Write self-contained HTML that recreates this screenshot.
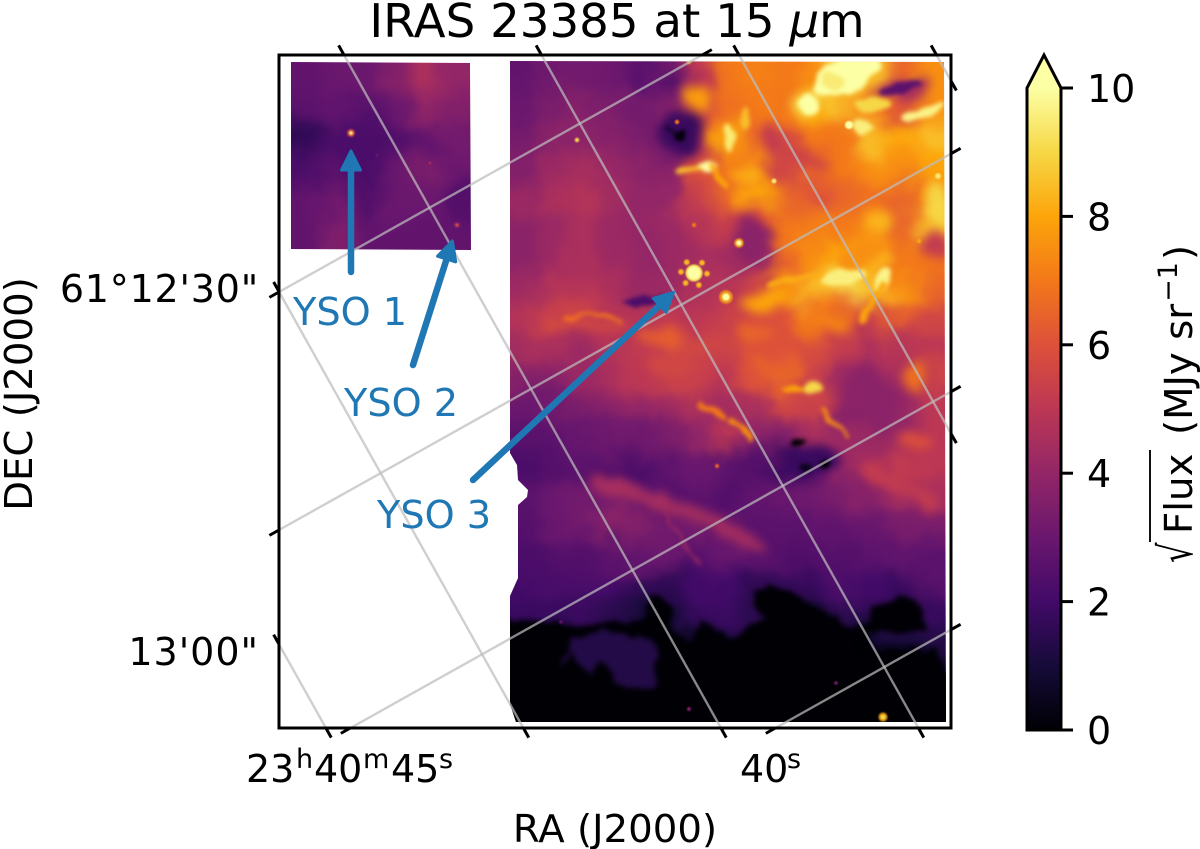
<!DOCTYPE html>
<html>
<head>
<meta charset="utf-8">
<title>IRAS 23385 at 15 micron</title>
<style>
html,body{margin:0;padding:0;background:#fff;}
svg{display:block;}
text{font-family:"DejaVu Sans","Liberation Sans",sans-serif;fill:#000;}
.blue{fill:#1f77b4;}
</style>
</head>
<body>
<svg id="fig" xmlns="http://www.w3.org/2000/svg" width="1200" height="849" viewBox="0 0 1200 849">
<defs>
<filter id="blurBig" filterUnits="userSpaceOnUse" x="200" y="0" width="900" height="849" color-interpolation-filters="sRGB">
<feGaussianBlur in="SourceGraphic" stdDeviation="8" result="b"/>
<feTurbulence type="fractalNoise" baseFrequency="0.022" numOctaves="3" seed="4" result="n"/>
<feDisplacementMap in="b" in2="n" scale="34" xChannelSelector="R" yChannelSelector="G"/>
</filter>
<filter id="blurSoft" filterUnits="userSpaceOnUse" x="200" y="0" width="900" height="849" color-interpolation-filters="sRGB">
<feTurbulence type="fractalNoise" baseFrequency="0.03" numOctaves="3" seed="9" result="n"/>
<feDisplacementMap in="SourceGraphic" in2="n" scale="24" xChannelSelector="R" yChannelSelector="G" result="d"/>
<feGaussianBlur in="d" stdDeviation="5"/>
</filter>
<filter id="blurVoid" filterUnits="userSpaceOnUse" x="200" y="0" width="900" height="849" color-interpolation-filters="sRGB">
<feTurbulence type="fractalNoise" baseFrequency="0.05" numOctaves="3" seed="2" result="n"/>
<feDisplacementMap in="SourceGraphic" in2="n" scale="16" xChannelSelector="R" yChannelSelector="G" result="d"/>
<feGaussianBlur in="d" stdDeviation="2.6"/>
</filter>
<filter id="blurFine" filterUnits="userSpaceOnUse" x="200" y="0" width="900" height="849" color-interpolation-filters="sRGB">
<feTurbulence type="fractalNoise" baseFrequency="0.05" numOctaves="2" seed="7" result="n"/>
<feDisplacementMap in="SourceGraphic" in2="n" scale="11" xChannelSelector="R" yChannelSelector="G" result="d"/>
<feGaussianBlur in="d" stdDeviation="2.2"/>
</filter>
<filter id="blurSmall" x="-10%" y="-10%" width="120%" height="120%" color-interpolation-filters="sRGB"><feGaussianBlur stdDeviation="0.8"/></filter>
<clipPath id="axesClip"><rect x="279" y="55" width="672" height="673"/></clipPath>
<clipPath id="rightClip"><path d="M510 61L944 62L945 390L946 722L516 722L510 704L510 596L518 578L518 505L527 497L528 490L518 480L517 465L510 453Z"/></clipPath>
<clipPath id="leftClip"><path d="M291 62L470 63L471 250L291 249Z"/></clipPath>
<linearGradient id="cbarGrad" x1="0" y1="1" x2="0" y2="0"></linearGradient>
</defs>
<g id="imgRight" clip-path="url(#rightClip)"><g id="gridRight" filter="url(#blurBig)"></g><g id="softLayer" filter="url(#blurSoft)"></g><g id="voidLayer" filter="url(#blurVoid)"></g><g id="fineLayer" filter="url(#blurFine)"></g><g id="stars" filter="url(#blurSmall)"></g></g>
<g id="imgLeft" clip-path="url(#leftClip)"><g id="gridLeft" filter="url(#blurBig)"></g><g id="starsLeft" filter="url(#blurSmall)"></g></g>
<g id="gridLines" clip-path="url(#axesClip)"></g>
<g id="ticks"></g>
<rect x="279" y="55" width="672" height="673" fill="none" stroke="#000" stroke-width="3"/>

<text x="617" y="37" font-size="46.7" text-anchor="middle">IRAS 23385 at 15 <tspan font-style="italic">μ</tspan>m</text>
<text x="615" y="842" font-size="38.7" text-anchor="middle">RA (J2000)</text>
<text transform="translate(32,394) rotate(-90)" font-size="38.7" text-anchor="middle">DEC (J2000)</text>
<text x="259" y="302" font-size="38" letter-spacing="0.8" text-anchor="end">61°12'30"</text>
<text x="259" y="665" font-size="38" letter-spacing="1" text-anchor="end">13'00"</text>
<text y="782" font-size="38"><tspan x="246">23</tspan><tspan x="296" y="768" font-size="27">h</tspan><tspan x="314" y="782">40</tspan><tspan x="363" y="768" font-size="27">m</tspan><tspan x="391" y="782">45</tspan><tspan x="439" y="768" font-size="27">s</tspan></text>
<text y="782" font-size="38"><tspan x="740">40</tspan><tspan x="787" y="768" font-size="27">s</tspan></text>

<g id="arrow1"></g>
<g id="arrow2"></g>
<g id="arrow3"></g>
<text class="blue" x="293" y="325" font-size="38.2">YSO 1</text>
<text class="blue" x="344" y="416" font-size="38.2">YSO 2</text>
<text class="blue" x="377" y="528" font-size="38.2">YSO 3</text>

<g id="colorbar">
<rect x="1027" y="88" width="34" height="642" fill="url(#cbarGrad)"/>
<path d="M1027 88L1044 55L1061 88Z" fill="#fcffa4"/>
<path d="M1027 730L1027 88L1044 55L1061 88L1061 730Z" fill="none" stroke="#000" stroke-width="3"/>
</g>
<g id="cbarTicks"></g>
<g>
<text transform="translate(1192,563) rotate(-90) scale(0.7,1)" font-size="46" >√</text>
<line x1="1150" y1="542" x2="1150" y2="450" stroke="#111" stroke-width="2"/>
<text transform="translate(1192,534) rotate(-90)" font-size="38.7">Flux</text>
<text transform="translate(1192,435) rotate(-90)" font-size="38.7">(MJy sr<tspan font-size="27" dy="-15" dx="2">−1</tspan><tspan dy="15" dx="2">)</tspan></text>
</g>
</svg>
<script>
// colormap
const cmapStops = ['#000004','#160b39','#420a68','#6a176e','#932667','#bc3754','#dd513a','#f37819','#fca50a','#f6d746','#fcffa4'];
// colorbar
const cbarTickValues = [0,2,4,6,8,10];
// main image flux values, rows top to bottom
const mainImageFlux = [
[2.8,3.2,3.2,3.0,2.6,3.0,5.0,7.0,7.2,7.0,7.5,9.0,8.5,6.5,7.5],
[3.0,3.4,3.6,3.4,3.2,3.6,5.6,6.8,7.0,7.0,8.0,8.5,7.0,6.0,7.5],
[3.3,3.8,3.8,3.6,3.4,2.8,5.0,8.0,6.5,5.8,7.0,7.0,8.5,8.0,8.5],
[3.6,4.2,4.4,4.0,3.8,3.8,6.0,7.0,7.5,5.5,6.5,7.0,7.5,7.5,8.0],
[4.2,4.6,4.8,4.4,4.0,4.0,5.5,6.5,8.0,6.5,6.0,6.5,6.8,6.5,7.5],
[3.8,4.2,4.6,4.2,4.0,4.2,4.8,5.2,6.0,7.0,7.2,7.0,7.5,6.5,8.5],
[3.8,4.2,4.6,4.2,4.0,4.2,4.5,4.3,4.3,6.5,7.5,8.0,8.3,7.0,7.0],
[4.2,4.8,4.8,4.6,4.2,4.2,4.6,4.8,5.5,7.5,8.5,9.0,8.5,7.5,6.5],
[4.8,5.4,5.4,5.0,4.8,5.0,5.0,5.4,5.8,6.0,7.0,6.5,5.5,6.3,5.5],
[4.4,4.6,4.2,4.8,5.2,5.6,5.6,5.5,6.0,6.0,5.8,5.2,4.6,4.8,5.0],
[3.6,3.8,4.2,4.6,5.0,5.4,5.4,5.0,6.0,6.5,5.5,4.2,4.0,4.5,5.5],
[3.0,3.2,3.4,3.8,4.0,4.4,4.6,4.4,4.5,5.5,5.5,3.8,3.6,4.0,5.0],
[2.6,2.6,3.0,3.2,3.2,3.4,4.0,5.0,4.0,3.6,4.5,4.2,4.2,4.6,5.0],
[2.2,2.4,2.6,2.4,2.2,2.6,3.0,2.6,2.4,1.8,2.8,4.0,4.6,5.2,5.0],
[2.6,3.0,3.2,3.2,3.0,2.6,2.6,2.4,2.8,3.0,3.2,3.4,3.8,4.4,4.4],
[2.4,3.0,3.2,3.8,3.6,3.2,3.2,2.8,2.6,2.6,2.8,2.8,3.0,3.4,3.4],
[2.2,2.4,2.4,2.6,2.8,3.0,2.6,3.0,2.6,2.4,2.4,2.4,2.6,2.8,2.6],
[2.0,2.2,2.2,2.0,1.6,1.6,2.0,2.0,1.6,1.6,1.8,2.2,2.0,1.8,2.6],
[1.8,1.8,1.8,1.4,1.0,1.0,1.8,1.8,1.5,0.5,0.8,1.4,1.2,1.4,1.8],
[0.6,0.8,1.0,0.6,0.6,0.6,0.8,1.0,0.8,0.2,0.2,0.6,0.8,1.0,1.2],
[0.2,0.2,0.2,0.2,0.1,0.1,0.1,0.1,0.1,0.1,0.1,0.1,0.2,0.3,0.5],
[0.0,0.0,0.0,0.0,0.0,0.0,0.0,0.0,0.0,0.0,0.0,0.0,0.0,0.0,0.0]
];
// inset image flux values
const insetImageFlux = [
[2.8,3.0,3.0,3.6,4.6,4.0],
[2.6,2.8,2.6,3.0,3.8,3.6],
[1.6,2.2,2.2,2.4,2.8,3.2],
[2.2,2.6,2.2,3.0,3.4,3.0],
[2.8,3.2,2.4,3.0,3.0,2.4],
[2.8,3.5,2.8,2.8,2.8,2.8]
];
// broad structures, image pixels from the axes corner
const softCol   = [529,624,494,528,598,466,658,598,401,421,394,474,658,551,478,488,591,531,636,381,391,634,586,488];
const softRow   = [ 48, 33, 83,103,165,120,150,207, 80, 43, 30,183,187,268,278,315,342,405,322,282,308,388,197,245];
const softRx    = [ 16, 32, 14, 25, 16, 14, 14, 18, 22, 14, 14, 18, 12, 25, 15, 22, 22, 30, 10, 25, 25, 18, 30, 25];
const softRy    = [ 16, 10, 13,  8,  9,  6, 18,  7, 20, 14,  8, 25, 15,  8, 10,  6, 35, 14, 18,  8, 12,  8, 14,  8];
const softAngle = [  0, -8,  0, 20,  0,  0,  0,  0,  0,  0,  0,  0,  0,  0,  0, 30,-25,  0,  0,  0,  0,  0,-25,  0];
const softFlux  = [  9,4.5,5.2,5.5,8.3,8.2,9.0,8.3,1.8,7.8,2.4,3.8,5.2,7.2,6.5,6.5,3.8,1.8,6.8,6.3,5.6,6.0,7.5,8.0];
// broad filamentary bands
const bandVerts = [
 [[314,425],[394,452]], [[394,452],[481,488]], [[271,268],[341,267]], [[588,415],[654,448]]
];
const bandFlux  = [4.5,4.4,5.8,5.2];
const bandWidth = [16,14,10,14];
// black lower region of the map
const voidVerts = [[233,565],[259,568],[293,570],[366,565],[373,538],[386,542],[396,572],[409,588],[423,562],[439,575],[456,585],[466,572],[489,565],[473,548],[483,535],[513,538],[543,552],[573,575],[593,565],[596,548],[626,540],[643,555],[643,578],[593,578],[593,592],[659,595],[666,615],[700,615],[700,690],[200,690],[200,565]];
const voidFlux = 0.02;
// faint nebula in the black region
const nebulaVerts = [[283,605],[296,582],[326,575],[373,585],[379,608],[373,635],[336,628],[319,605],[309,622],[293,598],[283,615]];
const nebulaFlux = 1.3;
// compact structures
const fineCol   = [568,554,529,624,644,594,583,466,451,428,408,401,564,603,533,514,364,519,546,526];
const fineRow   = [ 20, 27, 48, 33, 57, 50, 72, 63, 83,113,115, 81,222,225,332,332,245,389,410,412];
const fineRx    = [ 35, 12,  9, 22, 22, 18, 10,  5,  5, 10, 12,  5, 22,  6, 10, 10, 22,  5,  7,  7];
const fineRy    = [ 17,  9, 10,  6,  5,  8,  8, 12, 14,  5,  4,  6,  7, 14,  5,  3,  4,  5,  3,  3];
const fineAngle = [-25,  0,  0,-10,-18,  0,  0,-10,-10,  0,  0,  0, -8, 25,  0,  0, -5,  0,  0,  0];
const fineFlux  = [ 10,9.5, 10,2.6,9.7,  9,9.6,8.5,9.5, 10,8.5,  0,9.6,9.7,  9,  8,2.2,  0,  0,0.3];
// filaments: polyline vertices with flux and thickness
const filamentVerts = [
 [[491,228],[544,220]], [[604,228],[583,265]], [[431,113],[448,133]], [[388,70],[401,82]],
 [[285,262],[314,258],[341,267]], [[421,348],[444,362]], [[451,365],[474,382]], [[544,355],[568,380]],
 [[381,452],[421,508]], [[579,591],[644,591]]
];
const filamentFlux  = [8.2,8,8,0.3,6.8,7,7.5,7.5,4.3,0];
const filamentWidth = [6,5,6,2.5,4,5,5,4,2,1.5];
// point sources
const sourceCol  = [298,398,410,495,460,415,570,659,640,438,410,604,557,282,447];
const sourceRow  = [ 85, 67,  7,126,188,170, 70,121,186,411,654,662,628,567,242];
const sourceFlux = [  9,  7,  8,9.5, 10,  7, 10,9.5,  8,6.5,3.5,  9,3.5,  3, 10];
const sourceHalo = [  0,  0,  0,  0,  2,  0,  0,  1,  0,  0,  0,  2,  0,  0,  3];
const sourceCore = [2.2,2.2,2.2,2.4,2.8,2.2,4,2.8,2.2,2,2,2.6,1.8,1.6,3.8];
// bright saturated source and its diffraction spots
const brightCol = 415;
const brightRow = 218;
const brightFlux = 10;
const spotAngles = [-124,-52,3,68,130,185];
const spotFlux = [8.4,8.4,8.4,8.4,8.4,8.4];
// inset sources
const insetSourceCol  = [72,178,151,98];
const insetSourceRow  = [78,170,108,100];
const insetSourceFlux = [9.5,6.5,5,3.5];
// coordinate grid line indices
const gridFamilyA = [-2,-1,0,1,2,3];
const gridFamilyB = [0,1,2,3];
// arrows: tail to tip, axes-corner pixels
const arrowTailX = [72,134,194];
const arrowTailY = [217,310,425];
const arrowTipX  = [72,174,396];
const arrowTipY  = [94,184,236];

const NS = 'http://www.w3.org/2000/svg';
const AX0 = 279, AY0 = 55, AX1 = 951, AY1 = 728;
function xScale(col){ return AX0 + col; }
function yScale(row){ return AY0 + row; }
function cbarY(v){ return 730 - v * 64.2; }
function hexToRgb(h){ return [1,3,5].map(i => parseInt(h.substr(i,2),16)); }
function inferno(v){
  const t = Math.max(0, Math.min(10, v));
  const i = Math.min(9, Math.floor(t));
  const f = t - i;
  const a = hexToRgb(cmapStops[i]), b = hexToRgb(cmapStops[i+1]);
  const c = a.map((x,k) => Math.round(x + (b[k]-x)*f));
  return 'rgb(' + c.join(',') + ')';
}
function el(tag, parent, attrs){
  const e = document.createElementNS(NS, tag);
  for (const k in attrs) e.setAttribute(k, attrs[k]);
  parent.appendChild(e);
  return e;
}
function ptStr(pts){ return pts.map(p => xScale(p[0]) + ',' + yScale(p[1])).join(' '); }

// heatmap grids
function drawGrid(parentId, data, x0, y0, cw, ch, label){
  const parent = document.getElementById(parentId);
  data.forEach((row, r) => row.forEach((v, c) => {
    const padL = c === 0 ? 40 : 0, padR = c === row.length-1 ? 40 : 0;
    const padT = r === 0 ? 40 : 0, padB = r === data.length-1 ? 40 : 0;
    const rect = el('rect', parent, {x: xScale(x0 + c*cw) - padL, y: yScale(y0 + r*ch) - padT,
      width: cw + padL + padR + 0.5, height: ch + padT + padB + 0.5, fill: inferno(v)});
    
    
  }));
}
drawGrid('gridRight', mainImageFlux, 231, 7, 29, 30, 'heatmap-cell');
drawGrid('gridLeft', insetImageFlux, 12, 7, 30, 31.2, 'inset-heatmap-cell');

// broad structures
const softG = document.getElementById('softLayer');
softCol.forEach((c, i) => {
  const b = el('ellipse', softG, {cx: xScale(c), cy: yScale(softRow[i]), rx: softRx[i], ry: softRy[i],
    fill: inferno(softFlux[i]),
    transform: 'rotate(' + softAngle[i] + ' ' + xScale(c) + ' ' + yScale(softRow[i]) + ')'});
  
  
});
bandVerts.forEach((pts, i) => {
  const f = el('polyline', softG, {points: ptStr(pts),
    fill: 'none', stroke: inferno(bandFlux[i]), 'stroke-width': bandWidth[i], 'stroke-linecap': 'round'});
  
  
});

// dark region
const voidG = document.getElementById('voidLayer');
const voidShape = el('polygon', voidG, {points: ptStr(voidVerts), fill: inferno(voidFlux)});


const nebulaShape = el('polygon', voidG, {points: ptStr(nebulaVerts), fill: inferno(nebulaFlux)});



// compact structures
const fineG = document.getElementById('fineLayer');
fineCol.forEach((c, i) => {
  const b = el('ellipse', fineG, {cx: xScale(c), cy: yScale(fineRow[i]), rx: fineRx[i], ry: fineRy[i],
    fill: inferno(fineFlux[i]),
    transform: 'rotate(' + fineAngle[i] + ' ' + xScale(c) + ' ' + yScale(fineRow[i]) + ')'});
  
  
});
filamentVerts.forEach((pts, i) => {
  const f = el('polyline', fineG, {points: ptStr(pts),
    fill: 'none', stroke: inferno(filamentFlux[i]), 'stroke-width': filamentWidth[i], 'stroke-linecap': 'round'});
  
  
});

// point sources
const starG = document.getElementById('stars');
sourceCol.forEach((c, i) => {
  if (sourceHalo[i] > 0) {
    const h = el('circle', starG, {cx: xScale(c), cy: yScale(sourceRow[i]), r: sourceHalo[i] + sourceCore[i], fill: inferno(8), opacity: 0.8});
    
    
  }
  const s = el('circle', starG, {cx: xScale(c), cy: yScale(sourceRow[i]), r: sourceCore[i], fill: inferno(sourceFlux[i])});
  
  
});
spotAngles.forEach((a, i) => {
  const rad = a * Math.PI / 180;
  const sp = el('circle', starG, {cx: xScale(brightCol) + 13*Math.cos(rad), cy: yScale(brightRow) + 13*Math.sin(rad), r: 2.8, fill: inferno(spotFlux[i])});
  
  
});
const brightHalo = el('circle', starG, {cx: xScale(brightCol), cy: yScale(brightRow), r: 8.5, fill: inferno(brightFlux - 0.8)});


const brightCore = el('circle', starG, {cx: xScale(brightCol), cy: yScale(brightRow), r: 6.5, fill: inferno(brightFlux)});



const starL = document.getElementById('starsLeft');
insetSourceCol.forEach((c, i) => {
  const h = el('circle', starL, {cx: xScale(c), cy: yScale(insetSourceRow[i]), r: 1.2 + insetSourceFlux[i]*0.3, fill: inferno(insetSourceFlux[i]*0.62), opacity: 0.8});
  
  
  const s = el('circle', starL, {cx: xScale(c), cy: yScale(insetSourceRow[i]), r: insetSourceFlux[i] > 8 ? 2 : 1.3, fill: inferno(insetSourceFlux[i])});
  
  
});

// grid lines and ticks
const gridG = document.getElementById('gridLines');
const tickG = document.getElementById('ticks');
const SLOPE = 0.56;
function addLine(p, q, dir){
  const g = el('line', gridG, {x1:p[0], y1:p[1], x2:q[0], y2:q[1], stroke:'#bcbcbc', 'stroke-opacity':0.72, 'stroke-width':2.4});
  
  
  const L = 11;
  const t1 = el('line', tickG, {x1:p[0], y1:p[1], x2:p[0]-dir[0]*L, y2:p[1]-dir[1]*L, stroke:'#000', 'stroke-width':3});
  
  
  const t2 = el('line', tickG, {x1:q[0], y1:q[1], x2:q[0]+dir[0]*L, y2:q[1]+dir[1]*L, stroke:'#000', 'stroke-width':3});
  
  
}
function clipSeg(x0, y0, dx, dy){
  let t0 = -1e9, t1 = 1e9;
  [[x0, dx, AX0, AX1],[y0, dy, AY0, AY1]].forEach(([o,d,lo,hi]) => {
    const a = (lo-o)/d, b = (hi-o)/d;
    t0 = Math.max(t0, Math.min(a,b));
    t1 = Math.min(t1, Math.max(a,b));
  });
  return t1 > t0 ? [[x0+dx*t0, y0+dy*t0],[x0+dx*t1, y0+dy*t1]] : null;
}
const nA = Math.hypot(SLOPE,1), nB = Math.hypot(1,SLOPE);
gridFamilyA.forEach(k => {
  const seg = clipSeg(344 + 197.5*k, AY0, SLOPE, 1);
  if (seg) addLine(seg[0], seg[1], [SLOPE/nA, 1/nA]);
});
gridFamilyB.forEach(k => {
  const seg = clipSeg(AX0, 292 + 238*k, 1, -SLOPE);
  if (seg) addLine(seg[0], seg[1], [1/nB, -SLOPE/nB]);
});

// arrows
arrowTailX.forEach((tx, i) => {
  const g = document.getElementById('arrow' + (i+1));
  const x1 = xScale(tx), y1 = yScale(arrowTailY[i]), x2 = xScale(arrowTipX[i]), y2 = yScale(arrowTipY[i]);
  const len = Math.hypot(x2-x1, y2-y1), ux = (x2-x1)/len, uy = (y2-y1)/len;
  const tipx = x2 - ux*2, tipy = y2 - uy*2;
  const bx = x2 - ux*21, by = y2 - uy*21;
  const shaft = el('line', g, {x1:x1, y1:y1, x2:bx, y2:by, stroke:'#1f77b4', 'stroke-width':6.5, 'stroke-linecap':'round'});
  
  
  const head = el('polygon', g, {points: [tipx, tipy, bx - uy*9.5, by + ux*9.5, bx + uy*9.5, by - ux*9.5].join(' '),
    fill:'#1f77b4', stroke:'#1f77b4', 'stroke-width':3, 'stroke-linejoin':'round'});
  
  
});

// colorbar
const grad = document.getElementById('cbarGrad');
cmapStops.forEach((c, i) => {
  el('stop', grad, {offset: (i/(cmapStops.length-1)), 'stop-color': c});
});
const cbT = document.getElementById('cbarTicks');
cbarTickValues.forEach(v => {
  const t = el('line', cbT, {x1:1061, x2:1073, y1:cbarY(v), y2:cbarY(v), stroke:'#000', 'stroke-width':3});
  
  
  const l = el('text', cbT, {x:1087, y:cbarY(v)+14, 'font-size':38});
  l.textContent = v;
  
  
});
</script>
</body>
</html>
